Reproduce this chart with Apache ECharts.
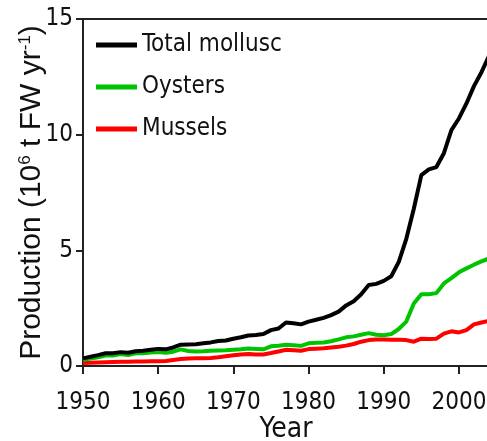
<!DOCTYPE html>
<html>
<head>
<meta charset="utf-8">
<script src="https://cdn.jsdelivr.net/npm/echarts@6/dist/echarts.min.js"></script>
<style>
  html, body { margin: 0; padding: 0; background: #fff; }
  #chart { width: 487px; height: 441px; }
</style>
</head>
<body>
<div id="chart"></div>
<script>
// years 1950..2004
const years = [];
for (let y = 1950; y <= 2004; y++) years.push(y);

// production, 10^6 t FW per year
const totalMollusc = [
  0.33, 0.40, 0.47, 0.55, 0.55, 0.60, 0.57, 0.64, 0.66, 0.70,
  0.74, 0.72, 0.80, 0.92, 0.93, 0.94, 0.98, 1.02, 1.08, 1.10,
  1.18, 1.24, 1.32, 1.34, 1.38, 1.55, 1.62, 1.88, 1.85, 1.80,
  1.92, 2.00, 2.08, 2.20, 2.35, 2.62, 2.80, 3.10, 3.50, 3.55,
  3.68, 3.88, 4.50, 5.50, 6.80, 8.25, 8.50, 8.60, 9.20, 10.20,
  10.70, 11.35, 12.10, 12.70, 13.40
];
const oysters = [
  0.27, 0.32, 0.38, 0.45, 0.45, 0.52, 0.47, 0.55, 0.55, 0.58,
  0.60, 0.57, 0.62, 0.72, 0.65, 0.63, 0.64, 0.66, 0.67, 0.68,
  0.70, 0.72, 0.76, 0.74, 0.72, 0.85, 0.88, 0.92, 0.90, 0.87,
  0.98, 1.00, 1.02, 1.07, 1.15, 1.24, 1.28, 1.35, 1.42, 1.35,
  1.33, 1.38, 1.60, 1.92, 2.70, 3.10, 3.10, 3.15, 3.57, 3.80,
  4.05, 4.22, 4.38, 4.52, 4.65
];
const mussels = [
  0.13, 0.14, 0.15, 0.16, 0.17, 0.18, 0.18, 0.19, 0.19, 0.20,
  0.21, 0.22, 0.26, 0.30, 0.32, 0.33, 0.34, 0.35, 0.38, 0.42,
  0.46, 0.50, 0.52, 0.50, 0.50, 0.56, 0.63, 0.70, 0.68, 0.66,
  0.73, 0.75, 0.77, 0.80, 0.83, 0.88, 0.95, 1.05, 1.12, 1.15,
  1.15, 1.14, 1.13, 1.12, 1.05, 1.18, 1.17, 1.18, 1.40, 1.50,
  1.45, 1.55, 1.80, 1.88, 1.95
];

const xTicks = [1950, 1960, 1970, 1980, 1990, 2000];
const seriesNames = ['Total mollusc', 'Oysters', 'Mussels'];
const seriesColors = ['#000000', '#00c400', '#ff0000'];

const narrow = '"Liberation Sans Narrow", "DejaVu Sans Condensed", sans-serif';
const axisColor = '#222';

function pairs(vals) {
  return years.map((y, i) => [y, vals[i]]);
}

const chart = echarts.init(document.getElementById('chart'), null, { renderer: 'canvas' });

chart.setOption({
  animation: false,
  backgroundColor: '#fff',
  grid: {
    left: 83,
    top: 19,
    height: 347,
    width: 406,
    outerBoundsMode: 'none',
    containLabel: false,
    show: true,
    borderColor: axisColor,
    borderWidth: 2
  },
  legend: {
    orient: 'vertical',
    left: 96,
    top: 33,
    padding: 0,
    itemGap: 18,
    itemWidth: 41,
    itemHeight: 5,
    icon: 'rect',
    data: seriesNames,
    textStyle: { fontFamily: narrow, fontSize: 24, color: '#111' }
  },
  xAxis: {
    type: 'value',
    min: 1950,
    max: 2004,
    interval: 10,
    splitLine: { show: false },
    axisLine: { lineStyle: { color: axisColor, width: 2 } },
    axisTick: { length: 8, lineStyle: { color: axisColor, width: 2 }, customValues: xTicks },
    axisLabel: {
      customValues: xTicks,
      formatter: v => String(v),
      margin: 25,
      fontFamily: narrow,
      fontSize: 24,
      color: '#111'
    },
    name: 'Year',
    nameLocation: 'middle',
    nameGap: 50,
    nameMoveOverlap: false,
    nameTextStyle: { fontFamily: narrow, fontSize: 28, color: '#111' }
  },
  yAxis: {
    type: 'value',
    min: 0,
    max: 15,
    interval: 5,
    splitLine: { show: false },
    axisLine: { show: true, lineStyle: { color: axisColor, width: 2 } },
    axisTick: { show: true, length: 7, lineStyle: { color: axisColor, width: 2 } },
    axisLabel: {
      margin: 10,
      fontFamily: narrow,
      fontSize: 24,
      color: '#111'
    },
    name: 'Production (10{sup|6} t FW yr{sup|-1})',
    nameLocation: 'middle',
    nameGap: 36,
    nameMoveOverlap: false,
    nameTextStyle: {
      fontFamily: '"Liberation Sans", Arial, sans-serif',
      fontSize: 30,
      color: '#111',
      rich: {
        sup: {
          fontFamily: '"Liberation Sans", Arial, sans-serif',
          fontSize: 17,
          color: '#111',
          verticalAlign: 'top'
        }
      }
    }
  },
  series: [
    { name: seriesNames[0], data: pairs(totalMollusc) },
    { name: seriesNames[1], data: pairs(oysters) },
    { name: seriesNames[2], data: pairs(mussels) }
  ].map((s, i) => ({
    name: s.name,
    type: 'line',
    data: s.data,
    showSymbol: false,
    symbol: 'none',
    z: 10 - i,
    color: seriesColors[i],
    lineStyle: { color: seriesColors[i], width: 4 }
  }))
});
</script>
</body>
</html>
